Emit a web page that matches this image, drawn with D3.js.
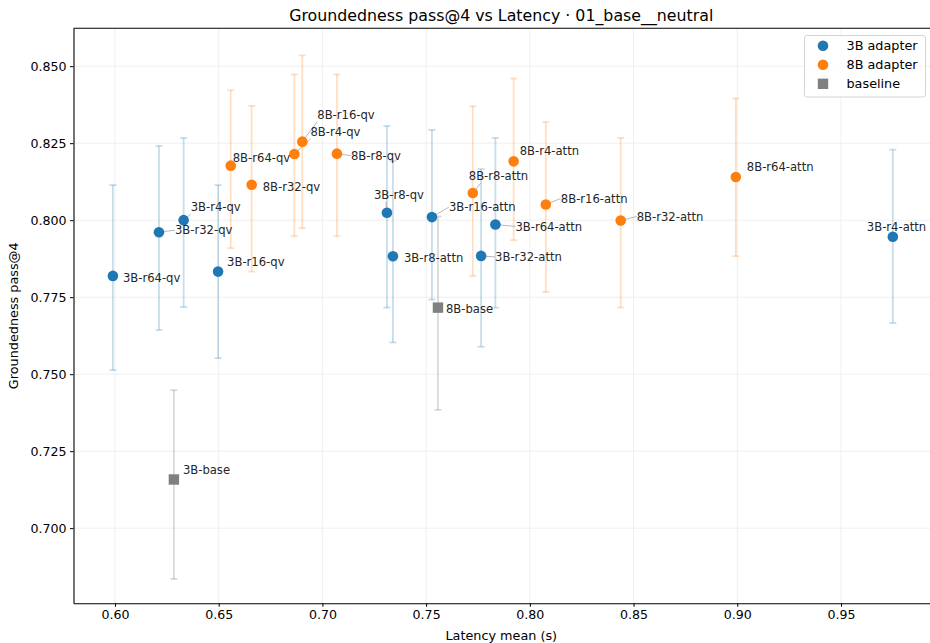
<!DOCTYPE html>
<html>
<head>
<meta charset="utf-8">
<script src="https://cdn.jsdelivr.net/npm/d3@7"></script>
<style>
  body { margin: 0; background: #fff; }
  #chart { width: 930px; height: 643px; }
</style>
</head>
<body>
<div id="chart"></div>
<script>
// 3B adapters
const names3B = ["3B-r64-qv", "3B-r32-qv", "3B-r4-qv", "3B-r16-qv", "3B-r8-qv", "3B-r8-attn", "3B-r16-attn", "3B-r32-attn", "3B-r64-attn", "3B-r4-attn"];
const latency3B = [0.599, 0.6212, 0.6331, 0.6497, 0.7311, 0.7340, 0.7528, 0.7765, 0.7834, 0.9750];
const score3B = [0.7819, 0.7961, 0.8000, 0.7833, 0.8024, 0.7883, 0.8010, 0.7884, 0.7986, 0.7946];
const low3B = [0.7513, 0.7643, 0.7718, 0.7552, 0.7716, 0.7603, 0.7742, 0.7589, 0.7716, 0.7666];
const high3B = [0.8114, 0.8241, 0.8267, 0.8114, 0.8306, 0.8193, 0.8293, 0.8166, 0.8267, 0.8229];

// 8B adapters
const names8B = ["8B-r64-qv", "8B-r32-qv", "8B-r4-qv", "8B-r16-qv", "8B-r8-qv", "8B-r8-attn", "8B-r4-attn", "8B-r16-attn", "8B-r32-attn", "8B-r64-attn"];
const latency8B = [0.6558, 0.6659, 0.6865, 0.6903, 0.7070, 0.7725, 0.7922, 0.8077, 0.8438, 0.8993];
const score8B = [0.8177, 0.8115, 0.8215, 0.8255, 0.8216, 0.8088, 0.8191, 0.8051, 0.7999, 0.8140];
const low8B = [0.7909, 0.7833, 0.7948, 0.7974, 0.7948, 0.7819, 0.7935, 0.7767, 0.7716, 0.7883];
const high8B = [0.8422, 0.8371, 0.8473, 0.8535, 0.8473, 0.8370, 0.8460, 0.8319, 0.8267, 0.8395];

// baselines
const namesBase = ["3B-base", "8B-base"];
const latencyBase = [0.6284, 0.7557];
const scoreBase = [0.7158, 0.7716];
const lowBase = [0.6835, 0.7384];
const highBase = [0.7448, 0.8012];

const xTicks = [0.60, 0.65, 0.70, 0.75, 0.80, 0.85, 0.90, 0.95];
const yTicks = [0.700, 0.725, 0.750, 0.775, 0.800, 0.825, 0.850];

// label placement (pixel offset of text start / middle from the point, leader line or not)
const labelOffsets = {
  "3B-r64-qv": [10, 2, false], "3B-r32-qv": [16, -2, true], "3B-r4-qv": [7, -13, true],
  "3B-r16-qv": [9, -10, false], "3B-r8-qv": [-13, -18, true], "3B-r8-attn": [11, 2, false],
  "3B-r16-attn": [17, -10, true], "3B-r32-attn": [14, 1, true], "3B-r64-attn": [20, 2, true],
  "3B-r4-attn": [-26, -10, false],
  "8B-r64-qv": [2, -8, false], "8B-r32-qv": [11, 2, false], "8B-r4-qv": [16, -22, true],
  "8B-r16-qv": [15, -27, true], "8B-r8-qv": [14, 2, true], "8B-r8-attn": [-4, -17, true],
  "8B-r4-attn": [6, -10, false], "8B-r16-attn": [15, -6, true], "8B-r32-attn": [16, -4, true],
  "8B-r64-attn": [11, -10, false],
  "3B-base": [9, -10, false], "8B-base": [8, 1, false]
};

const blue = "#1f77b4", orange = "#ff7f0e", gray = "#808080";

const rows = [];
names3B.forEach((n, i) => rows.push({name: n, x: latency3B[i], y: score3B[i], lo: low3B[i], hi: high3B[i], color: blue, shape: "circle"}));
names8B.forEach((n, i) => rows.push({name: n, x: latency8B[i], y: score8B[i], lo: low8B[i], hi: high8B[i], color: orange, shape: "circle"}));
namesBase.forEach((n, i) => rows.push({name: n, x: latencyBase[i], y: scoreBase[i], lo: lowBase[i], hi: highBase[i], color: gray, shape: "square"}));

const width = 930, height = 643;
const mLeft = 73.5, mRight = 931, mTop = 28.3, mBottom = 603.3;
const font = "'DejaVu Sans', sans-serif";

const x = d3.scaleLinear([0.58, 0.9934], [mLeft, mRight]);
const y = d3.scaleLinear([0.6756, 0.8623], [mBottom, mTop]);

const svg = d3.select("#chart").append("svg")
    .attr("width", width)
    .attr("height", height)
    .attr("viewBox", [0, 0, width, height])
    .style("font-family", font);

// grid
svg.append("g")
    .attr("stroke", "#ebebeb")
    .attr("stroke-width", 0.8)
  .call(g => g.selectAll("line.gx").data(xTicks).join("line")
      .attr("x1", d => x(d)).attr("x2", d => x(d)).attr("y1", mTop).attr("y2", mBottom))
  .call(g => g.selectAll("line.gy").data(yTicks).join("line")
      .attr("x1", mLeft).attr("x2", mRight).attr("y1", d => y(d)).attr("y2", d => y(d)));

// error bars
const err = svg.append("g")
    .attr("stroke-width", 1.8)
  .selectAll("g")
  .data(rows)
  .join("g")
    .attr("stroke", d => d.color)
    .attr("stroke-opacity", d => d.shape === "square" ? 0.3 : 0.25);

err.append("line")
    .attr("x1", d => x(d.x)).attr("x2", d => x(d.x))
    .attr("y1", d => y(d.lo)).attr("y2", d => y(d.hi));
err.selectAll("line.cap")
  .data(d => [[d.x, d.lo], [d.x, d.hi]])
  .join("line")
    .attr("class", "cap")
    .attr("x1", d => x(d[0]) - 3.5).attr("x2", d => x(d[0]) + 3.5)
    .attr("y1", d => y(d[1])).attr("y2", d => y(d[1]));

// leader lines
svg.append("g")
    .attr("stroke", "#999")
    .attr("stroke-width", 0.7)
  .selectAll("line")
  .data(rows.filter(d => labelOffsets[d.name][2]))
  .join("line")
    .attr("x1", d => x(d.x))
    .attr("y1", d => y(d.y))
    .attr("x2", d => x(d.x) + labelOffsets[d.name][0] + (labelOffsets[d.name][0] < 0 ? 12 : 0))
    .attr("y2", d => y(d.y) + labelOffsets[d.name][1] + (labelOffsets[d.name][1] < -12 ? 7 : 0));

// markers
svg.append("g")
  .selectAll("circle")
  .data(rows.filter(d => d.shape === "circle"))
  .join("circle")
    .attr("cx", d => x(d.x))
    .attr("cy", d => y(d.y))
    .attr("r", 5.3)
    .attr("fill", d => d.color);

svg.append("g")
  .selectAll("rect")
  .data(rows.filter(d => d.shape === "square"))
  .join("rect")
    .attr("x", d => x(d.x) - 5.2)
    .attr("y", d => y(d.y) - 5.2)
    .attr("width", 10.4)
    .attr("height", 10.4)
    .attr("fill", d => d.color);

// point labels
svg.append("g")
    .attr("font-size", 11.6)
    .attr("fill", "#262626")
  .selectAll("text")
  .data(rows)
  .join("text")
    .attr("x", d => x(d.x) + labelOffsets[d.name][0])
    .attr("y", d => y(d.y) + labelOffsets[d.name][1])
    .attr("dy", "0.35em")
    .text(d => d.name);

// axes
svg.append("g")
    .attr("transform", `translate(0,${mBottom})`)
    .call(d3.axisBottom(x).tickValues(xTicks).tickFormat(d3.format(".2f")).tickSize(3.5).tickSizeOuter(0).tickPadding(3.5))
    .call(g => g.select(".domain").attr("stroke-width", 1.1))
    .call(g => g.selectAll("text").attr("font-size", 12.6).attr("font-family", font).attr("fill", "#000"));

svg.append("g")
    .attr("transform", `translate(${mLeft},0)`)
    .call(d3.axisLeft(y).tickValues(yTicks).tickFormat(d3.format(".3f")).tickSize(3.5).tickSizeOuter(0).tickPadding(3.5))
    .call(g => g.select(".domain").attr("stroke-width", 1.1))
    .call(g => g.selectAll("text").attr("font-size", 12.6).attr("font-family", font).attr("fill", "#000"));

svg.append("line")
    .attr("x1", mLeft).attr("x2", mRight).attr("y1", mTop).attr("y2", mTop)
    .attr("stroke", "#000").attr("stroke-width", 1.1);

// titles
svg.append("text")
    .attr("x", (mLeft + 929) / 2)
    .attr("y", 15)
    .attr("dy", "0.35em")
    .attr("text-anchor", "middle")
    .attr("font-size", 15.8)
    .text("Groundedness pass@4 vs Latency · 01_base__neutral");

svg.append("text")
    .attr("x", (mLeft + 929) / 2)
    .attr("y", 636)
    .attr("dy", "0.35em")
    .attr("text-anchor", "middle")
    .attr("font-size", 12.8)
    .text("Latency mean (s)");

svg.append("text")
    .attr("transform", `translate(14,${(mTop + mBottom) / 2}) rotate(-90)`)
    .attr("dy", "0.35em")
    .attr("text-anchor", "middle")
    .attr("font-size", 12.8)
    .text("Groundedness pass@4");

// legend
const legendItems = [
  {label: "3B adapter", color: blue, shape: "circle"},
  {label: "8B adapter", color: orange, shape: "circle"},
  {label: "baseline", color: gray, shape: "square"}
];
const legend = svg.append("g");
legend.append("rect")
    .attr("x", 804.5).attr("y", 35.5)
    .attr("width", 121).attr("height", 61.5)
    .attr("rx", 2.5)
    .attr("fill", "#fff").attr("fill-opacity", 0.8)
    .attr("stroke", "#d0d0d0").attr("stroke-width", 0.9);
const li = legend.selectAll("g.item")
  .data(legendItems)
  .join("g")
    .attr("class", "item")
    .attr("transform", (d, i) => `translate(823,${45.8 + i * 19})`);
li.filter(d => d.shape === "circle").append("circle").attr("r", 5.3).attr("fill", d => d.color);
li.filter(d => d.shape === "square").append("rect")
    .attr("x", -5.2).attr("y", -5.2).attr("width", 10.4).attr("height", 10.4).attr("fill", d => d.color);
li.append("text")
    .attr("x", 23.5)
    .attr("dy", "0.35em")
    .attr("font-size", 12.8)
    .text(d => d.label);
</script>
</body>
</html>
